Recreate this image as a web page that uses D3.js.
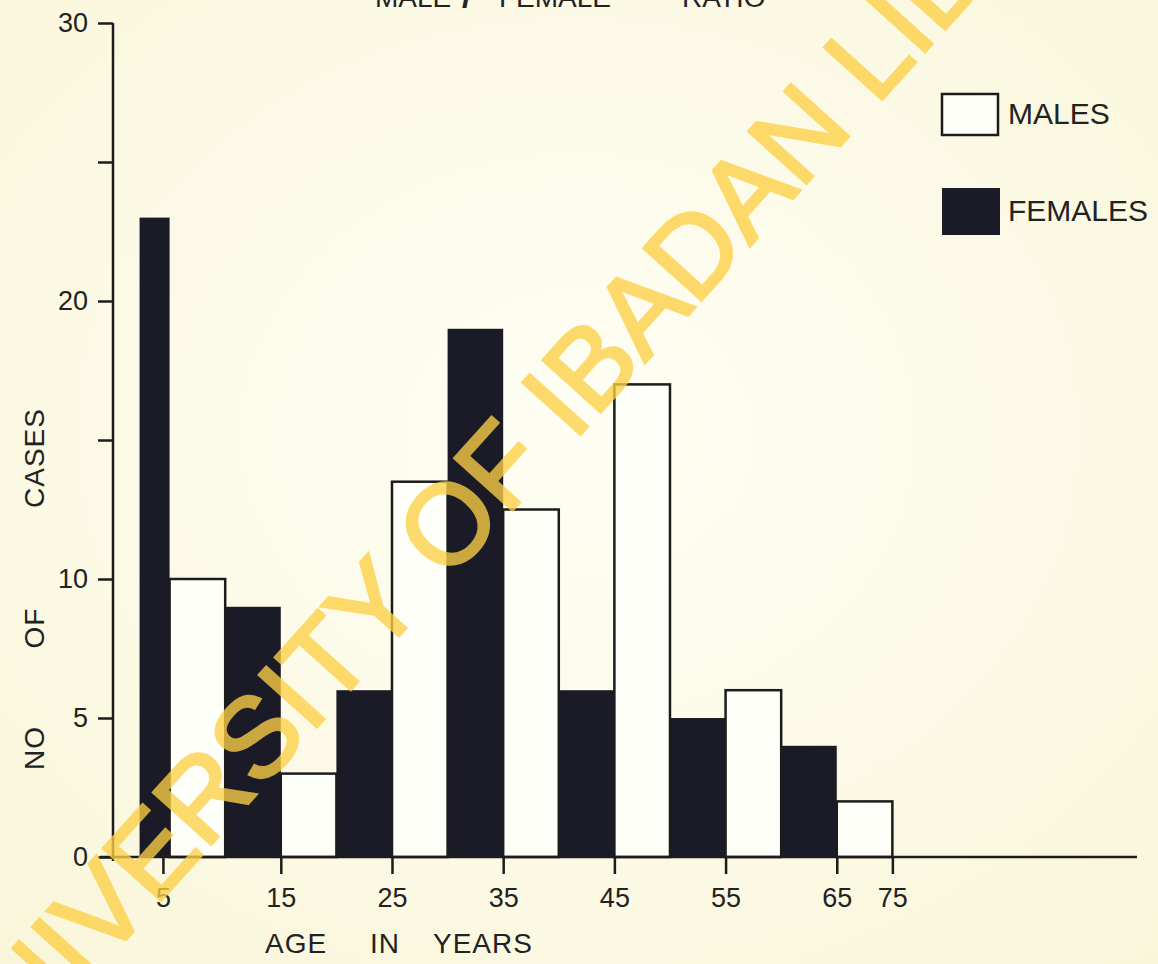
<!DOCTYPE html>
<html>
<head>
<meta charset="utf-8">
<script src="https://cdn.jsdelivr.net/npm/d3@7"></script>
<style>
  body { margin: 0; background: #fcfae6; }
  svg { display: block; font-family: 'Liberation Sans', Arial, sans-serif; }
</style>
</head>
<body>
<svg></svg>
<script>
const width = 1158;
const height = 964;

// age bins (start, end in years)
const femaleBins = [[2.3, 5], [10, 15], [20, 25], [30, 35], [40, 45], [50, 55], [60, 65]];
const femaleCases = [23, 9, 6, 19, 6, 5, 4];
const maleBins = [[5, 10], [15, 20], [25, 30], [35, 40], [45, 50], [55, 60], [65, 70]];
const maleCases = [10, 3, 13.5, 12.5, 17, 6, 2];

// x ticks as drawn (the last one sits at the 70 mark but reads 75)
const xTickPos = [4.4, 15, 25, 35, 45, 55, 65, 70];
const xTickLabels = ['5', '15', '25', '35', '45', '55', '65', '75'];
const yTicks = [0, 5, 10, 15, 20, 25, 30];
const yTickLabels = ['0', '5', '10', '', '20', '', '30'];

const svg = d3.select('svg')
    .attr('width', width)
    .attr('height', height);

const defs = svg.append('defs');
const grad = defs.append('radialGradient')
    .attr('id', 'paper')
    .attr('cx', '50%').attr('cy', '45%').attr('r', '75%');
grad.append('stop').attr('offset', '0%').attr('stop-color', '#fefef4');
grad.append('stop').attr('offset', '100%').attr('stop-color', '#faf6da');

svg.append('rect')
    .attr('width', width)
    .attr('height', height)
    .attr('fill', 'url(#paper)');

const xScale = d3.scaleLinear()
    .domain([0, 92])
    .range([114, 1137]);
const yScale = d3.scaleLinear()
    .domain([0, 30])
    .range([857, 23]);

const ink = '#1c1c1c';

// bars
const females = femaleBins.map((b, i) => ({ x0: b[0], x1: b[1], v: femaleCases[i] }));
const males = maleBins.map((b, i) => ({ x0: b[0], x1: b[1], v: maleCases[i] }));

svg.append('g').selectAll('rect')
  .data(females)
  .enter()
  .append('rect')
    .attr('x', d => xScale(d.x0))
    .attr('y', d => yScale(d.v))
    .attr('width', d => xScale(d.x1) - xScale(d.x0))
    .attr('height', d => yScale(0) - yScale(d.v))
    .attr('fill', '#1b1b27');

svg.append('g').selectAll('rect')
  .data(males)
  .enter()
  .append('rect')
    .attr('x', d => xScale(d.x0))
    .attr('y', d => yScale(d.v))
    .attr('width', d => xScale(d.x1) - xScale(d.x0))
    .attr('height', d => yScale(0) - yScale(d.v))
    .attr('fill', '#fffffa')
    .attr('stroke', ink)
    .attr('stroke-width', 2.5);

// axes
const xAxis = d3.axisBottom(xScale)
    .tickValues(xTickPos)
    .tickFormat((d, i) => xTickLabels[i])
    .tickSize(17)
    .tickPadding(14);
const yAxis = d3.axisLeft(yScale)
    .tickValues(yTicks)
    .tickFormat((d, i) => yTickLabels[i])
    .tickSize(15)
    .tickPadding(10);

const gx = svg.append('g')
    .attr('transform', `translate(0, ${yScale(0)})`)
    .call(xAxis);
gx.select('.domain').remove();
gx.append('line')
    .attr('x1', 100).attr('x2', 1137)
    .attr('stroke', ink).attr('stroke-width', 2.5);

const gy = svg.append('g')
    .attr('transform', `translate(${xScale(0) - 1}, 0)`)
    .call(yAxis);
gy.select('.domain').remove();
gy.append('line')
    .attr('y1', yScale(30)).attr('y2', yScale(0) + 4)
    .attr('stroke', ink).attr('stroke-width', 2.5);

[gx, gy].forEach(g => {
  g.selectAll('.tick line').attr('stroke', ink).attr('stroke-width', 2.5);
  g.selectAll('.tick text')
      .attr('fill', '#222')
      .style('font-size', '27px')
      .style('font-family', "'Liberation Sans', Arial, sans-serif");
});

// axis titles
const xTitle = [['AGE', 265], ['IN', 370], ['YEARS', 433]];
svg.append('g').selectAll('text')
  .data(xTitle)
  .enter()
  .append('text')
    .attr('x', d => d[1])
    .attr('y', 953)
    .attr('fill', '#222')
    .style('font-size', '28px')
    .style('letter-spacing', '1px')
    .text(d => d[0]);

const yTitle = [['NO', 748], ['OF', 628], ['CASES', 458]];
svg.append('g').selectAll('text')
  .data(yTitle)
  .enter()
  .append('text')
    .attr('transform', d => `translate(44, ${d[1]}) rotate(-90)`)
    .style('text-anchor', 'middle')
    .attr('fill', '#222')
    .style('font-size', '28px')
    .style('letter-spacing', '1px')
    .text(d => d[0]);

// title, cut off by the top edge as in the scan
const titleParts = [['MALE', 375, 'normal', 28], ['/', 462, 'bold', 34], ['FEMALE', 499, 'normal', 28], ['RATIO', 682, 'normal', 28]];
svg.append('g').selectAll('text')
  .data(titleParts)
  .enter()
  .append('text')
    .attr('x', d => d[1])
    .attr('y', 7)
    .attr('fill', '#222')
    .style('font-weight', d => d[2])
    .style('font-size', d => d[3] + 'px')
    .text(d => d[0]);

// legend
const legend = svg.append('g');
legend.append('rect')
    .attr('x', 942).attr('y', 94).attr('width', 56).attr('height', 41)
    .attr('fill', '#fffffa').attr('stroke', ink).attr('stroke-width', 2.5);
legend.append('text')
    .attr('x', 1008).attr('y', 124)
    .attr('fill', '#222').style('font-size', '30px')
    .text('MALES');
legend.append('rect')
    .attr('x', 942).attr('y', 188).attr('width', 58).attr('height', 47)
    .attr('fill', '#1b1b27');
legend.append('text')
    .attr('x', 1008).attr('y', 221)
    .attr('fill', '#222').style('font-size', '30px')
    .text('FEMALES');

// library watermark across the scan
svg.append('text')
    .attr('transform', 'translate(-26, 1108) rotate(-48)')
    .attr('fill', '#fcd046')
    .attr('stroke', '#fcd046')
    .attr('stroke-width', 3)
    .attr('opacity', 0.78)
    .style('font-size', '113px')
    .text('UNIVERSITY OF IBADAN LIBRARY');
</script>
</body>
</html>
